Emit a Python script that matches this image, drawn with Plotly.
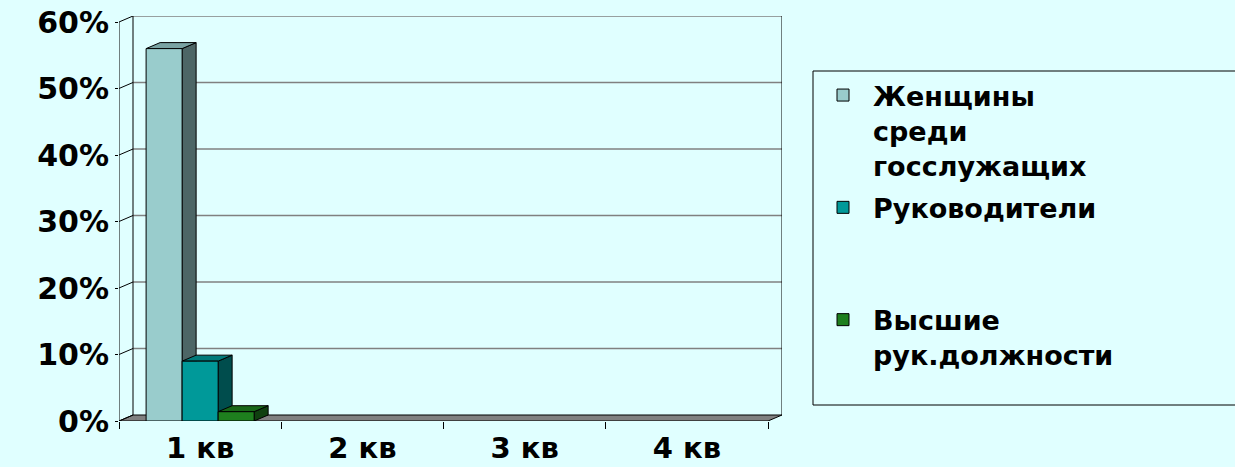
import plotly.graph_objects as go

# ---- data ----
categories = ["1 кв", "2 кв", "3 кв", "4 кв"]
series_names = ["Женщины среди госслужащих", "Руководители", "Высшие рук.должности"]
legend_labels = ["Женщины<br>среди<br>госслужащих", "Руководители<br> <br> ", "Высшие<br>рук.должности"]
women = [0.56, None, None, None]
managers = [0.09, None, None, None]
senior = [0.014, None, None, None]
y_ticks = [0, 0.1, 0.2, 0.3, 0.4, 0.5, 0.6]

series_values = [women, managers, senior]

# ---- style ----
BG = "#E0FFFF"
FONT = "DejaVu Sans"
front_colors = ["#99CCCC", "#009999", "#1E7F1E"]
side_colors = ["#4D6666", "#004D4D", "#0F400F"]
top_colors = ["#7AA3A3", "#007A7A", "#186618"]

# pixel geometry of the 3D box
L, R_FRONT, T_FRONT, B = 119, 768, 22, 421
DEPTH_X, DEPTH_Y = 14, 6
n_cat = len(categories)
y_max = max(y_ticks)
kx = (R_FRONT - L) / n_cat
ky = (B - T_FRONT) / y_max
DX = DEPTH_X / kx
DY = DEPTH_Y / ky
GROUP = 0.666
W = GROUP / len(series_values)

x_pos = list(range(n_cat))
x_lo, x_hi = -0.5, n_cat - 0.5

PW = R_FRONT + DEPTH_X - L
PH = B - T_FRONT + DEPTH_Y

fig = go.Figure()

shapes = []
line_blk = dict(color="black", width=1)

# legend frame
shapes.append(dict(type="rect", xref="paper", yref="paper", layer="below",
                   x0=(813 - L) / PW, x1=(1240 - L) / PW,
                   y0=(B - 405) / PH, y1=(B - 71) / PH,
                   fillcolor=BG, line=line_blk))
# floor
shapes.append(dict(type="path", xref="x", yref="y", layer="below",
                   path=f"M{x_lo},0 L{x_hi},0 L{x_hi+DX},{DY} L{x_lo+DX},{DY} Z",
                   fillcolor="#808080", line=line_blk))
# back-wall gridlines
for t in y_ticks:
    if t == 0:
        continue
    shapes.append(dict(type="line", xref="x", yref="y", layer="below",
                       x0=x_lo + DX, x1=x_hi + DX, y0=t + DY, y1=t + DY,
                       line=dict(color="#808080", width=1.5)))
# side wall lines
for t in y_ticks:
    shapes.append(dict(type="line", xref="x", yref="y", layer="below",
                       x0=x_lo, x1=x_lo + DX, y0=t, y1=t + DY, line=line_blk))
shapes.append(dict(type="line", xref="x", yref="y", layer="below",
                   x0=x_lo, x1=x_lo, y0=0, y1=y_max, line=line_blk))
shapes.append(dict(type="line", xref="x", yref="y", layer="below",
                   x0=x_lo + DX, x1=x_lo + DX, y0=DY, y1=y_max + DY, line=line_blk))
# right wall edge
shapes.append(dict(type="line", xref="x", yref="y", layer="below",
                   x0=x_hi + DX, x1=x_hi + DX, y0=DY, y1=y_max + DY, line=line_blk))

# bar side and top faces
for i, vals in enumerate(series_values):
    off = -GROUP / 2 + i * W
    for j, v in enumerate(vals):
        if v is None:
            continue
        x0 = x_pos[j] + off
        x1 = x0 + W
        shapes.append(dict(type="path", xref="x", yref="y", layer="below",
                           path=f"M{x1},0 L{x1+DX},{DY} L{x1+DX},{v+DY} L{x1},{v} Z",
                           fillcolor=side_colors[i], line=line_blk))
        shapes.append(dict(type="path", xref="x", yref="y", layer="below",
                           path=f"M{x0},{v} L{x0+DX},{v+DY} L{x1+DX},{v+DY} L{x1},{v} Z",
                           fillcolor=top_colors[i], line=line_blk))

for i, vals in enumerate(series_values):
    fig.add_trace(go.Bar(
        x=x_pos, y=vals, name=legend_labels[i], legendgroup=f"g{i}",
        width=W, offset=-GROUP / 2 + i * W,
        marker=dict(color=front_colors[i], line=dict(color="black", width=1)),
        hovertext=series_names[i],
    ))

fig.update_layout(
    width=1235, height=467,
    paper_bgcolor=BG, plot_bgcolor=BG,
    barmode="overlay",
    margin=dict(l=L, r=1235 - (R_FRONT + DEPTH_X), t=T_FRONT - DEPTH_Y, b=467 - B, autoexpand=False),
    shapes=shapes,
    showlegend=True,
    legend=dict(x=(813 - L) / PW, y=(B - 71) / PH,
                xanchor="left", yanchor="top", valign="top",
                bgcolor="rgba(0,0,0,0)", borderwidth=0,
                itemwidth=50, tracegroupgap=4,
                font=dict(family=FONT, size=27, color="black", weight="bold")),
    xaxis=dict(range=[x_lo, x_hi + DX], tickvals=x_pos, ticktext=categories,
               ticks="", showgrid=False, zeroline=False, showline=False,
               ticklabelstandoff=7,
               tickfont=dict(family=FONT, size=29, color="black", weight="bold"),
               minor=dict(ticks="outside", ticklen=7, tickwidth=1, tickcolor="black",
                          tick0=-0.5, dtick=1, showgrid=False)),
    yaxis=dict(range=[0, y_max + DY], tickvals=y_ticks, tickformat=".0%",
               ticks="outside", ticklen=3, tickcolor="black",
               showgrid=False, zeroline=False, showline=False,
               tickfont=dict(family=FONT, size=30, color="black", weight="bold")),
)

fig.write_html("out.html", config={"displayModeBar": False},
               post_script="document.body.style.margin='0';")
